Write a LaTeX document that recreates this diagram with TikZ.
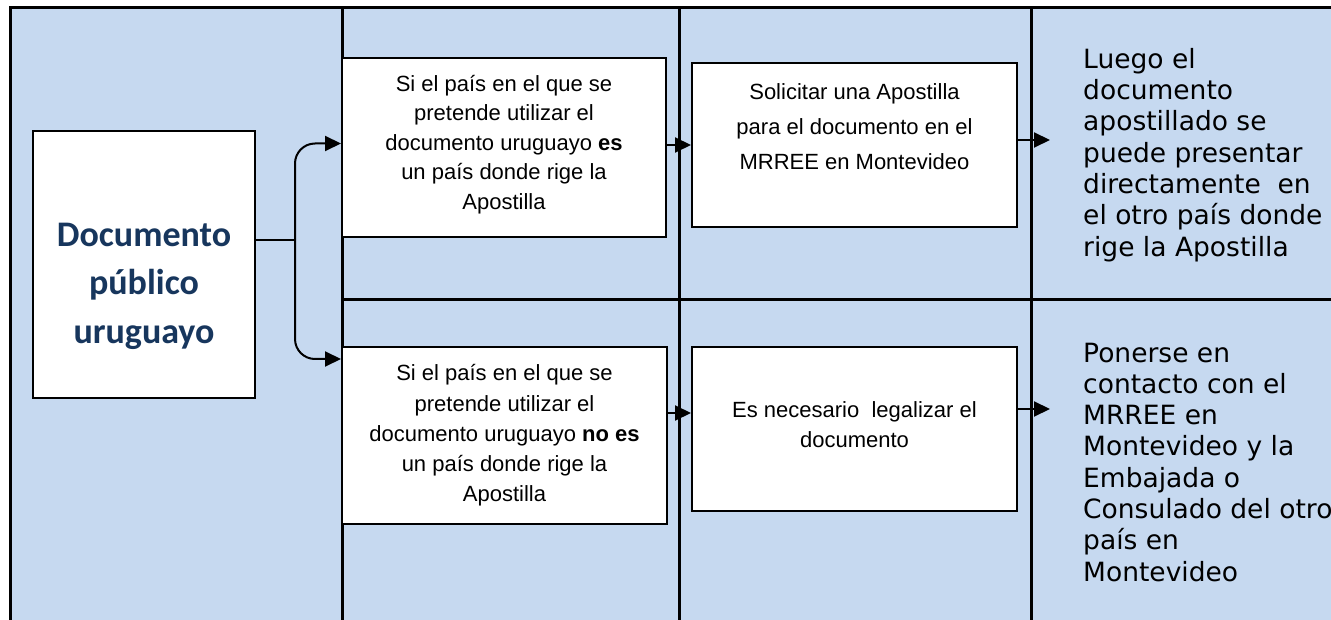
\documentclass[tikz,border=0pt]{standalone}
\usepackage{fontspec}
\setmainfont{Liberation Sans}
\newfontfamily\calibrifont{Carlito}
\newfontfamily\verdanafont{DejaVu Sans}
\usepackage{tikz}
\usetikzlibrary{arrows.meta}
\usetikzlibrary{positioning}
\usetikzlibrary{calc}
\definecolor{lanebg}{RGB}{198,217,240}
\definecolor{docblue}{RGB}{23,54,93}

\begin{document}
\begin{tikzpicture}[x=1pt, y=-1pt,
    frame/.style={line width=3pt},
    stepbox/.style={draw, line width=2pt, fill=white, inner sep=0pt, align=center,
        font=\fontsize{22}{30.2}\selectfont},
    flow/.style={line width=2pt, -{Triangle[length=16pt,width=15pt]}},
    sidetext/.style={anchor=north west, inner sep=0pt, align=left,
        font=\verdanafont\fontsize{26.5}{31.3}\selectfont}]
    \useasboundingbox (0,0) rectangle (1331,620);
    \clip (0,0) rectangle (1331,620);
    \fill[lanebg] (10,8) rectangle (1331,620);
    \draw[frame] (10,620) |- (1331,8);
    \foreach \x in {342,679,1031}
        \draw[frame] (\x,8) -- (\x,620);
    \draw[frame] (342,300) -- (1331,300);

    \node[stepbox, minimum width=222pt, minimum height=266pt] (doc-box) at (144,264.5) {};
    \node[font=\calibrifont\bfseries\fontsize{36}{48.5}\selectfont, text=docblue,
        align=center, inner sep=0pt] (doc-text) at (144,286) {Documento\\público\\uruguayo};

    \node[stepbox, minimum width=324pt, minimum height=179pt] (si-yes) at (504,147.5) {};
    \node[inner sep=0pt, align=center, font=\fontsize{22}{29.6}\selectfont]
        (si-yes-text) at (504,144.5)
        {Si el país en el que se\\pretende utilizar el\\documento uruguayo \textbf{es}\\un país donde rige la\\Apostilla};
    \node[stepbox, minimum width=325pt, minimum height=177pt] (si-no) at (504.5,435.5)
        {Si el país en el que se\\pretende utilizar el\\documento uruguayo \textbf{no es}\\un país donde rige la\\Apostilla};

    \node[stepbox, minimum width=325pt, minimum height=164pt] (sol-box) at (854.5,145) {};
    \node[inner sep=0pt, align=center, font=\fontsize{22}{35}\selectfont,
        below=21pt of sol-box.north] (sol-text)
        {Solicitar una Apostilla\\para el documento en el\\MRREE en Montevideo};
    \node[stepbox, minimum width=325pt, minimum height=164pt] (legal) at (854.5,429) {};
    \node[inner sep=0pt, align=center, font=\fontsize{22}{30}\selectfont]
        (legal-text) at (854.5,425) {Es necesario~ legalizar el\\documento};

    \node[sidetext] (luego-text) at (1083,48)
        {Luego el\\documento\\apostillado se\\puede presentar\\directamente~ en\\el otro país donde\\rige la Apostilla};
    \node[sidetext] (poner-text) at (1083,342.5)
        {Ponerse en\\contacto con el\\MRREE en\\Montevideo y la\\Embajada o\\Consulado del otro\\país en\\Montevideo};

    \coordinate (fork) at (295,240);
    \coordinate (no-in) at ($(si-no.north west)+(0,13)$);
    \draw[line width=2pt] (doc-box.east |- fork) -- (fork);
    \draw[flow, rounded corners=20pt] (fork) |- ($(si-yes.west)+(0,-4)$);
    \draw[flow, rounded corners=20pt] (fork) |- (no-in);

    \draw[flow] (si-yes.east |- sol-box.west) -- (sol-box.west);
    \coordinate (legal-in) at ($(legal.west)+(0,-16)$);
    \draw[flow] (si-no.east |- legal-in) -- (legal-in);

    \coordinate (luego-in) at (1050,140);
    \coordinate (poner-in) at (1050,409);
    \draw[flow] (sol-box.east |- luego-in) -- (luego-in);
    \draw[flow] (legal.east |- poner-in) -- (poner-in);
\end{tikzpicture}
\end{document}
